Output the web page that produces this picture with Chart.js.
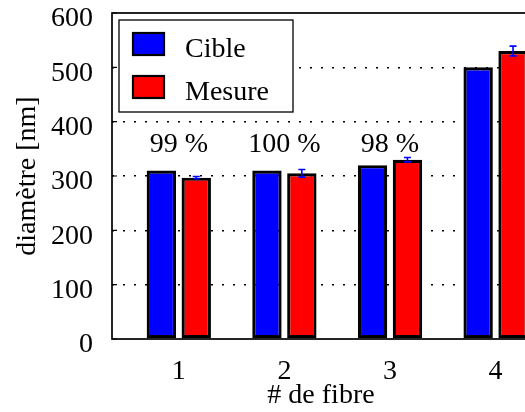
<!DOCTYPE html>
<html>
<head>
<meta charset="utf-8">
<script src="https://cdn.jsdelivr.net/npm/chart.js@4.4.1/dist/chart.umd.min.js"></script>
<style>
  html, body { margin: 0; padding: 0; overflow: hidden; background: #fff; }
  canvas { display: block; }
</style>
</head>
<body>
<canvas id="fibreChart" width="532" height="412"></canvas>
<script>
// data
const fibres = [1, 2, 3, 4];
const fibreLabels = ["1", "2", "3", "4"];
const cible = [310, 310, 320, 500];
const mesure = [297, 305, 330, 530];
const mesureErr = [2, 7, 4, 9];
const ratios = ["99 %", "100 %", "98 %"];
const yTicks = [0, 100, 200, 300, 400, 500, 600];

const serif = "'Liberation Serif', 'Times New Roman', serif";
const ratioLevel = 344; // y value where the ratio text sits

/* error bars, frame, inward ticks, ratios and legend */
const decor = {
    id: "decor",
    afterDraw(chart) {
        const { ctx, chartArea: a, scales } = chart;
        const x = scales.x, y = scales.y;
        ctx.save();

        // error bars on the measured bars
        const meta = chart.getDatasetMeta(1);
        ctx.strokeStyle = "#0000ff";
        ctx.lineWidth = 1.6;
        meta.data.forEach((bar, i) => {
            const top = y.getPixelForValue(mesure[i] + mesureErr[i]);
            const bot = y.getPixelForValue(mesure[i] - mesureErr[i]);
            ctx.beginPath();
            ctx.moveTo(bar.x, top); ctx.lineTo(bar.x, bot);
            ctx.moveTo(bar.x - 3.5, top); ctx.lineTo(bar.x + 3.5, top);
            ctx.moveTo(bar.x - 3.5, bot); ctx.lineTo(bar.x + 3.5, bot);
            ctx.stroke();
        });

        // frame
        ctx.strokeStyle = "#000";
        ctx.lineWidth = 1.7;
        ctx.strokeRect(a.left, a.top, a.right - a.left, a.bottom - a.top);

        // inward ticks on the left axis
        ctx.lineWidth = 1.2;
        ctx.beginPath();
        yTicks.forEach((v) => {
            const py = y.getPixelForValue(v);
            ctx.moveTo(a.left, py);
            ctx.lineTo(a.left + 5, py);
        });
        ctx.stroke();

        // ratio labels above each pair
        ctx.fillStyle = "#000";
        ctx.font = "28px " + serif;
        ctx.textAlign = "center";
        ctx.textBaseline = "alphabetic";
        ratios.forEach((txt, i) => {
            ctx.fillText(txt, x.getPixelForValue(fibres[i]), y.getPixelForValue(ratioLevel));
        });

        // legend box in the upper left corner
        const lx = a.left + 7, ly = a.top + 7;
        ctx.fillStyle = "#fff";
        ctx.fillRect(lx, ly, 174, 92);
        ctx.lineWidth = 1.3;
        ctx.strokeStyle = "#000";
        ctx.strokeRect(lx, ly, 174, 92);
        chart.data.datasets.forEach((ds, i) => {
            const sy = ly + 13 + i * 43;
            ctx.fillStyle = ds.backgroundColor;
            ctx.fillRect(lx + 14, sy, 31, 22);
            ctx.lineWidth = 2.2;
            ctx.strokeRect(lx + 14, sy, 31, 22);
            ctx.fillStyle = "#000";
            ctx.textAlign = "left";
            ctx.fillText(ds.label, lx + 66, sy + 23.5);
        });
        ctx.restore();
    },
};

new Chart(document.getElementById("fibreChart"), {
    type: "bar",
    data: {
        datasets: [
            {
                label: "Cible",
                data: fibres.map((f, i) => ({ x: f, y: cible[i] })),
                backgroundColor: "#0000ff",
                borderColor: "#000",
                borderWidth: 3.2,
                borderSkipped: false,
            },
            {
                label: "Mesure",
                data: fibres.map((f, i) => ({ x: f, y: mesure[i] })),
                backgroundColor: "#ff0000",
                borderColor: "#000",
                borderWidth: 3.2,
                borderSkipped: false,
            },
        ],
    },
    options: {
        responsive: false,
        animation: false,
        categoryPercentage: 0.661,
        barPercentage: 0.842,
        layout: { padding: { top: 13, right: 2, left: 0, bottom: 0 } },
        plugins: {
            legend: { display: false },
            tooltip: { enabled: false },
        },
        scales: {
            x: {
                type: "linear",
                min: 0.3674,
                max: 4.3258,
                offset: false,
                grid: { display: false },
                border: { display: false },
                afterBuildTicks(scale) {
                    scale.ticks = fibres.map((v) => ({ value: v }));
                },
                afterFit(scale) {
                    scale.height = 73;
                    scale.paddingLeft = 0;
                    scale.paddingRight = 0;
                },
                ticks: {
                    padding: 8,
                    color: "#000",
                    font: { family: serif, size: 28, lineHeight: 1.2 },
                    callback: (v, i) => fibreLabels[i],
                },
                title: {
                    display: true,
                    text: "# de fibre",
                    color: "#000",
                    padding: { top: 0, bottom: 0 },
                    font: { family: serif, size: 28, lineHeight: 1.2 },
                },
            },
            y: {
                min: 0,
                max: 600,
                z: 1,
                afterBuildTicks(scale) {
                    scale.ticks = yTicks.map((v) => ({ value: v }));
                },
                afterFit(scale) {
                    scale.width = 112;
                    scale.paddingTop = 0;
                    scale.paddingBottom = 0;
                },
                grid: {
                    drawTicks: false,
                    lineWidth: 1.5,
                    color: (c) => (c.tick && (c.tick.value === 0 || c.tick.value === 600) ? "rgba(0,0,0,0)" : "#000"),
                },
                border: { display: false, dash: [2, 9] },
                ticks: {
                    padding: 19,
                    labelOffset: 6,
                    color: "#000",
                    font: { family: serif, size: 28, lineHeight: 1.2 },
                },
                title: {
                    display: true,
                    text: "diamètre [nm]",
                    color: "#000",
                    padding: { top: 11, bottom: 0 },
                    font: { family: serif, size: 28, lineHeight: 1.2 },
                },
            },
        },
    },
    plugins: [decor],
});
</script>
</body>
</html>
